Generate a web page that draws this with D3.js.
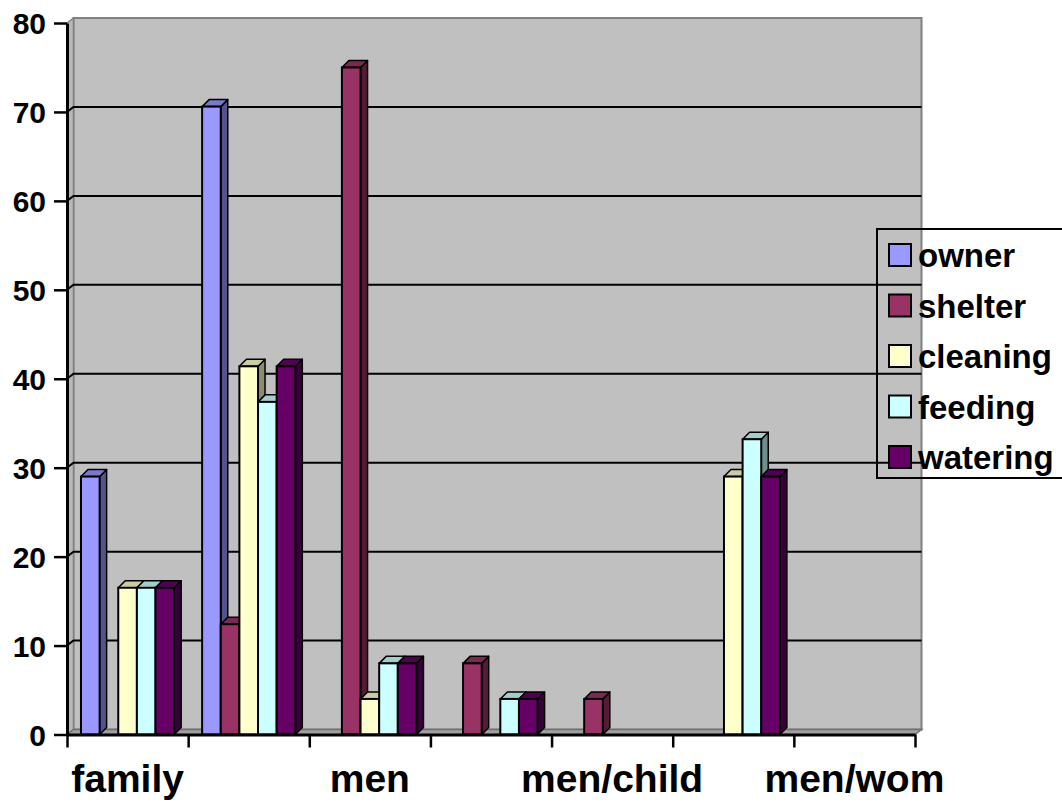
<!DOCTYPE html>
<html>
<head>
<meta charset="utf-8">
<script src="https://cdn.jsdelivr.net/npm/d3@7/dist/d3.min.js"></script>
<style>
  html, body { margin: 0; padding: 0; background: #ffffff; }
  svg { display: block; font-family: "Liberation Sans", Arial, sans-serif; font-weight: bold; }
</style>
</head>
<body>
<svg id="chart" width="1062" height="802"></svg>
<script>
// Categories along the x axis (only every other one has room for a label)
const categories = ["family", "family/child", "men", "women", "men/child", "women/child", "men/wom"];
const seriesNames = ["owner", "shelter", "cleaning", "feeding", "watering"];
const seriesColors = ["#9999FF", "#993366", "#FFFFCC", "#CCFFFF", "#660066"];

// Percent values per series, one entry per category
const owner    = [29.0, 70.6, 0, 0, 0, 0, 0];
const shelter  = [0, 12.4, 75.0, 8.0, 4.0, 0, 0];
const cleaning = [16.5, 41.4, 4.0, 0, 0, 29.0, 0];
const feeding  = [16.5, 37.4, 8.0, 4.0, 0, 33.2, 0];
const watering = [16.5, 41.4, 8.0, 4.0, 0, 29.0, 0];

const yTicks = [0, 10, 20, 30, 40, 50, 60, 70, 80];

const seriesValues = [owner, shelter, cleaning, feeding, watering];

const svg = d3.select("#chart");

// Front plane scales
const x = d3.scaleBand().domain(categories).range([67, 915]).paddingInner(0).paddingOuter(0);
const xEdge = d3.scaleLinear().domain([0, categories.length]).range([67, 915]);
const xs = d3.scaleBand().domain(seriesNames).range([0, x.bandwidth()]).paddingInner(0).paddingOuter(0.75);
const y = d3.scaleLinear().domain([0, 80]).range([734.5, 23]);
const color = d3.scaleOrdinal().domain(seriesNames).range(seriesColors);

// Oblique offsets for walls and column depth
const wall = { dx: 6.5, dy: -5 };
const depth = { dx: 7, dy: -7 };

const x0 = xEdge(0), x1 = xEdge(categories.length);
const yb = y(0), yt = y(80);

const line = d3.line();

// Back wall
svg.append("path")
  .attr("d", line([[x0 + wall.dx, yt + wall.dy], [x1 + wall.dx, yt + wall.dy], [x1 + wall.dx, yb + wall.dy], [x0 + wall.dx, yb + wall.dy]]) + "Z")
  .attr("fill", "#C0C0C0").attr("stroke", "#808080").attr("stroke-width", 2);

// Side wall
svg.append("path")
  .attr("d", line([[x0, yb], [x0, yt], [x0 + wall.dx, yt + wall.dy], [x0 + wall.dx, yb + wall.dy]]) + "Z")
  .attr("fill", "#B8B8B8").attr("stroke", "#808080").attr("stroke-width", 1.5);

// Floor
svg.append("path")
  .attr("d", line([[x0, yb], [x1, yb], [x1 + wall.dx, yb + wall.dy], [x0 + wall.dx, yb + wall.dy]]) + "Z")
  .attr("fill", "#A0A0A0").attr("stroke", "#707070").attr("stroke-width", 1.5);

// Gridlines across side wall and back wall
svg.append("g").selectAll("path")
  .data(yTicks.filter(v => v > 0 && v < 80))
  .join("path")
  .attr("d", v => line([[x0, y(v)], [x0 + wall.dx, y(v) + wall.dy], [x1 + wall.dx, y(v) + wall.dy]]))
  .attr("fill", "none").attr("stroke", "#000").attr("stroke-width", 2);

// Columns
function shade(c, k) {
  const r = d3.rgb(c);
  return d3.rgb(r.r * k, r.g * k, r.b * k).formatHex();
}

const bars = [];
categories.forEach((cat, ci) => {
  seriesNames.forEach((s, si) => {
    const v = seriesValues[si][ci];
    if (v > 0) bars.push({ cat, s, v });
  });
});

const gBars = svg.append("g");
bars.forEach(d => {
  const left = x(d.cat) + xs(d.s);
  const right = left + xs.bandwidth();
  const top = y(d.v);
  const g = gBars.append("g");
  const c = color(d.s);
  // side face
  g.append("path")
    .attr("d", line([[right, yb], [right, top], [right + depth.dx, top + depth.dy], [right + depth.dx, yb + depth.dy]]) + "Z")
    .attr("fill", shade(c, 0.55)).attr("stroke", "#000").attr("stroke-width", 1.5).attr("stroke-linejoin", "round");
  // top face
  g.append("path")
    .attr("d", line([[left, top], [right, top], [right + depth.dx, top + depth.dy], [left + depth.dx, top + depth.dy]]) + "Z")
    .attr("fill", shade(c, 0.8)).attr("stroke", "#000").attr("stroke-width", 1.5).attr("stroke-linejoin", "round");
  // front face
  g.append("rect")
    .attr("x", left).attr("y", top)
    .attr("width", right - left).attr("height", yb - top)
    .attr("fill", c).attr("stroke", "#000").attr("stroke-width", 2);
});

// Y axis
const yAxis = svg.append("g")
  .attr("transform", `translate(${x0},0)`)
  .call(d3.axisLeft(y).tickValues(yTicks).tickSize(13).tickPadding(8).tickSizeOuter(0));
yAxis.select(".domain").attr("stroke", "#000").attr("stroke-width", 3);
yAxis.selectAll(".tick line").attr("stroke", "#000").attr("stroke-width", 2.5);
yAxis.selectAll(".tick text")
  .attr("fill", "#000").attr("font-size", 30).attr("font-weight", "bold")
  .attr("font-family", "Liberation Sans, Arial, sans-serif")
  .attr("dy", "0.35em");

// X axis: ticks at category boundaries
const xAxis = svg.append("g")
  .attr("transform", `translate(0,${yb})`)
  .call(d3.axisBottom(xEdge).tickValues(d3.range(categories.length + 1)).tickSize(13).tickFormat("").tickSizeOuter(0));
xAxis.select(".domain").attr("stroke", "#000").attr("stroke-width", 3);
xAxis.selectAll(".tick line").attr("stroke", "#000").attr("stroke-width", 2.5);

// Category labels (alternate categories)
svg.append("g").selectAll("text")
  .data(categories.filter((c, i) => i % 2 === 0))
  .join("text")
  .attr("x", c => x(c) + x.bandwidth() / 2)
  .attr("y", 792)
  .attr("text-anchor", "middle")
  .attr("font-size", 39)
  .attr("fill", "#000")
  .text(c => c);

// Legend
const legend = svg.append("g");
legend.append("rect")
  .attr("x", 877).attr("y", 229).attr("width", 200).attr("height", 249)
  .attr("fill", "none").attr("stroke", "#000").attr("stroke-width", 2);
const items = legend.selectAll("g.item")
  .data(seriesNames)
  .join("g")
  .attr("class", "item")
  .attr("transform", (d, i) => `translate(0,${255 + i * 50.5})`);
items.append("rect")
  .attr("x", 889).attr("y", -11).attr("width", 22).attr("height", 22)
  .attr("fill", d => color(d)).attr("stroke", "#000").attr("stroke-width", 2);
items.append("text")
  .attr("x", 918).attr("y", 12)
  .attr("font-size", 33).attr("fill", "#000")
  .text(d => d);
</script>
</body>
</html>
